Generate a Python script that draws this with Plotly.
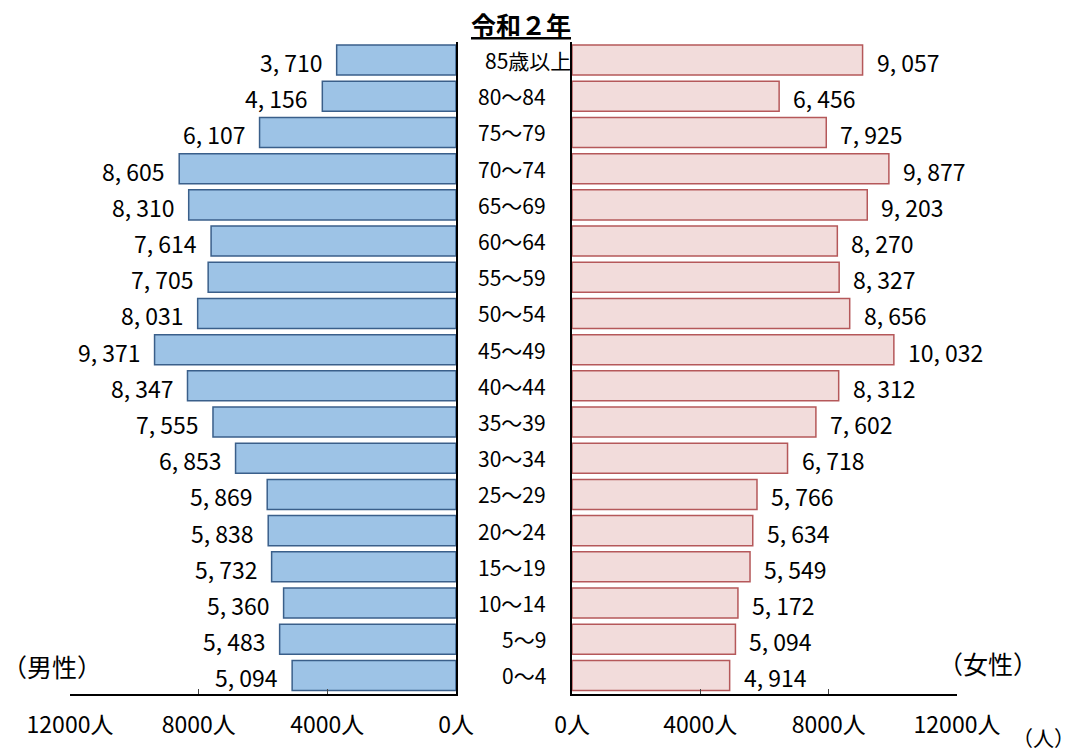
import plotly.graph_objects as go

# Data (bottom to top)
ages = ["0～4", "5～9", "10～14", "15～19", "20～24", "25～29", "30～34", "35～39",
        "40～44", "45～49", "50～54", "55～59", "60～64", "65～69", "70～74",
        "75～79", "80～84", "85歳以上"]
male = [5094, 5483, 5360, 5732, 5838, 5869, 6853, 7555, 8347, 9371, 8031, 7705,
        7614, 8310, 8605, 6107, 4156, 3710]
female = [4914, 5094, 5172, 5549, 5634, 5766, 6718, 7602, 8312, 10032, 8656, 8327,
          8270, 9203, 9877, 7925, 6456, 9057]
tick_vals = [0, 4000, 8000, 12000]
tick_text = ["0人", "4000人", "8000人", "12000人"]
title_text = "令和２年"
male_label = "（男性）"
female_label = "（女性）"
unit_label = "（人）"

W, H = 1077, 751
FONT = "Noto Sans CJK JP, sans-serif"

def fmt(v):
    return f"{v:,}".replace(",", ", ")

fig = go.Figure()
fig.add_trace(go.Bar(x=male, y=ages, orientation="h", xaxis="x", yaxis="y",
                     marker=dict(color="#9DC3E6", line=dict(color="#3A5F8A", width=1.5)),
                     hoverinfo="x+y", showlegend=False))
fig.add_trace(go.Bar(x=female, y=ages, orientation="h", xaxis="x2", yaxis="y2",
                     marker=dict(color="#F2DCDB", line=dict(color="#B5585A", width=1.5)),
                     hoverinfo="x+y", showlegend=False))

ydom = [1 - 693.5 / H, 1 - 42 / H]
common_x = dict(tickmode="array", tickvals=tick_vals, ticktext=tick_text,
                ticks="inside", ticklen=5,
                tickcolor="#444", tickwidth=1, showline=True, linecolor="black",
                linewidth=1.5, showgrid=False, zeroline=False, automargin=False,
                tickfont=dict(family=FONT, size=23, color="black"),
                ticklabelstandoff=10, fixedrange=True)
common_y = dict(type="category", categoryorder="array", categoryarray=ages,
                range=[-0.5, len(ages) - 0.5], domain=ydom, showline=True,
                linecolor="black", linewidth=1.5, showticklabels=False, ticks="",
                showgrid=False, zeroline=False, automargin=False, fixedrange=True)

fig.update_layout(
    width=W, height=H, margin=dict(l=0, r=0, t=0, b=0, pad=0, autoexpand=False),
    paper_bgcolor="white", plot_bgcolor="white", bargap=0.17,
    xaxis=dict(domain=[70 / W, 456 / W], range=[12000, 0], anchor="y", **common_x),
    xaxis2=dict(domain=[572 / W, 957 / W], range=[0, 12000], anchor="y2", **common_x),
    yaxis=dict(anchor="x", side="right", **common_y),
    yaxis2=dict(anchor="x2", side="left", **common_y),
)

ann = []
for a, m, f in zip(ages, male, female):
    ann.append(dict(x=m, y=a, xref="x", yref="y", text=fmt(m), showarrow=False,
                    xanchor="right", xshift=-12, yshift=-2,
                    font=dict(family=FONT, size=23, color="black")))
    ann.append(dict(x=f, y=a, xref="x2", yref="y2", text=fmt(f), showarrow=False,
                    xanchor="left", xshift=12, yshift=-2,
                    font=dict(family=FONT, size=23, color="black")))
    if a.endswith("以上"):
        ann.append(dict(x=483 / W, y=a, xref="paper", yref="y2", text=a, showarrow=False,
                        xanchor="left", font=dict(family=FONT, size=21, color="black")))
    else:
        ann.append(dict(x=548 / W, y=a, xref="paper", yref="y2", text=a, showarrow=False,
                        xanchor="right", font=dict(family=FONT, size=21, color="black")))

ann.append(dict(x=521 / W, y=1 - 24 / H, xref="paper", yref="paper", text="<b>" + title_text + "</b>",
                showarrow=False, xanchor="center", yanchor="middle",
                font=dict(family=FONT, size=25, color="black", lineposition="under")))
ann.append(dict(x=0 / W, y=1 - 666 / H, xref="paper", yref="paper", text=male_label,
                showarrow=False, xanchor="left", yanchor="middle",
                font=dict(family=FONT, size=25, color="black")))
ann.append(dict(x=936 / W, y=1 - 663 / H, xref="paper", yref="paper", text=female_label,
                showarrow=False, xanchor="left", yanchor="middle",
                font=dict(family=FONT, size=25, color="black")))
ann.append(dict(x=1077 / W, y=1 - 737 / H, xref="paper", yref="paper", text=unit_label,
                showarrow=False, xanchor="right", yanchor="middle",
                font=dict(family=FONT, size=21, color="black")))
fig.update_layout(annotations=ann)

fig.write_html("out.html", config={"displayModeBar": False},
               post_script="document.body.style.margin='0';document.body.style.overflow='hidden';")
